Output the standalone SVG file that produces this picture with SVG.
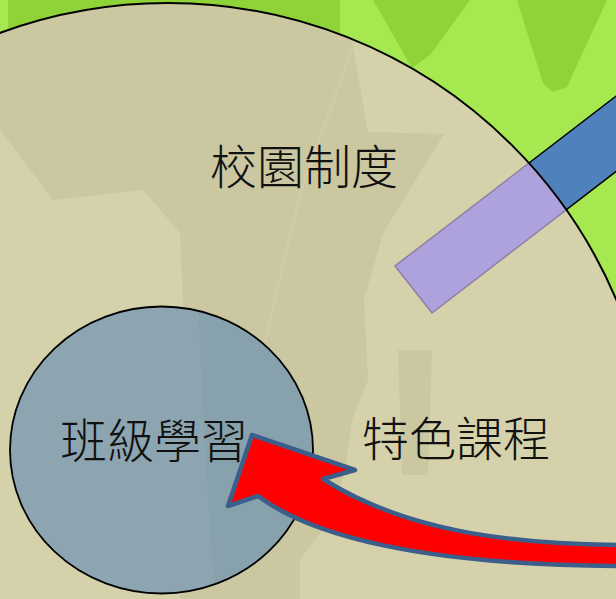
<svg xmlns="http://www.w3.org/2000/svg" width="616" height="599" viewBox="0 0 616 599">
  <style>
    .lbl { font-family: "Noto Sans CJK TC", "Noto Sans CJK SC", sans-serif; font-size: 47px; font-weight: 300; fill: #111111; }
    .bgDark { fill: #8FD339; }
    .bgBeigeDark { fill: #CAC7A1; }
  </style>
  <defs>
    <clipPath id="bigClip">
      <circle cx="168" cy="490" r="487"/>
    </clipPath>
    <clipPath id="smallClip">
      <ellipse cx="161.5" cy="450" rx="151.5" ry="143.5"/>
    </clipPath>
  </defs>

  <!-- background -->
  <g id="background">
    <rect x="0" y="0" width="616" height="599" fill="#A5E84F"/>
    <polygon class="bgDark" points="8,0 340,0 340,60 8,60"/>
    <polygon class="bgDark" points="373,0 470,0 430,55 412,68"/>
    <polygon class="bgDark" points="517,0 607,0 567,87 553,92 543,83"/>
  </g>

  <!-- bar (outer blue part) -->
  <g id="bar">
    <polygon points="395,266 432,313 700,107 663,60" fill="#4F81BD" stroke="#000000" stroke-width="1.5"/>
  </g>

  <!-- big circle: 校園制度 -->
  <g id="campus">
    <circle cx="168" cy="490" r="487" fill="#D5D2AB"/>
    <g clip-path="url(#bigClip)">
      <path class="bgBeigeDark" d="M0,0 H350 L352,42 L368,132 L444,134 L396,212 L383,234 L364,300 L368,380 L352,420 L345,470 L330,520 L300,560 L300,599 H180 L183,300 L180,233 L143,190 L53,200 L0,130 Z"/>
      <polygon class="bgBeigeDark" points="398,350 432,350 428,475 402,475"/>
      <polyline points="354,42 300,195 263,350" fill="none" stroke="#CFCBA6" stroke-width="3"/>
      <polygon points="395,266 432,313 700,107 663,60" fill="#ADA2DC" stroke="#8E7FA3" stroke-width="1.5"/>
    </g>
    <circle cx="168" cy="490" r="487" fill="none" stroke="#000000" stroke-width="2"/>
    <text class="lbl" x="210" y="184">校園制度</text>
  </g>

  <!-- special courses label -->
  <g id="courses">
    <text class="lbl" x="362" y="456">特色課程</text>
  </g>

  <!-- small circle: 班級學習 -->
  <g id="class">
    <ellipse cx="161.5" cy="450" rx="151.5" ry="143.5" fill="#8CA5B1"/>
    <g clip-path="url(#smallClip)">
      <polygon points="198,300 320,300 320,600 215,600 205,450" fill="#87A1AD"/>
    </g>
    <ellipse cx="161.5" cy="450" rx="151.5" ry="143.5" fill="none" stroke="#000000" stroke-width="1.8"/>
    <text class="lbl" x="60" y="458">班級學習</text>
  </g>

  <!-- connector: curved block arrow -->
  <g id="connectors">
    <path d="M252,435 L228,506 L258,496 C310,535 420,566 630,566 L630,545 C500,545 400,528 323,479 L355,470 Z" fill="#FF0000" stroke="#3C5E8B" stroke-width="4.5" stroke-linejoin="round"/>
  </g>
</svg>
